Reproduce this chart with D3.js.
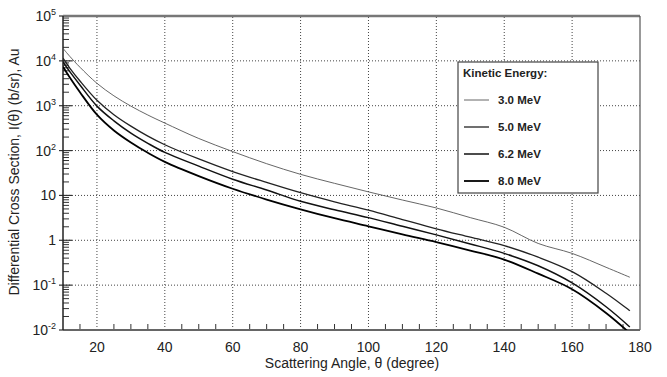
<!DOCTYPE html>
<html>
<head>
<meta charset="utf-8">
<script src="https://cdn.jsdelivr.net/npm/d3@7"></script>
<style>
  body { margin: 0; background: #fff; }
  text { font-family: "Liberation Sans", Arial, sans-serif; fill: #222; }
</style>
</head>
<body>
<div class="visHolder"></div>
<script>
const width = 667;
const height = 377;

// data
const angles = [10, 12, 15, 20, 25, 30, 35, 40, 50, 60, 70, 80, 90, 100, 110, 120, 130, 140, 150, 160, 170, 177];
const mev30 = [19000, 12600, 7200, 3160, 1660, 980, 620, 410, 186, 95, 51, 29.5, 18.6, 12.0, 7.9, 5.25, 3.2, 1.95, 0.85, 0.51, 0.25, 0.15];
const mev50 = [11500, 6900, 3550, 1320, 630, 350, 210, 135, 65, 34, 19.5, 11.5, 7.2, 4.7, 2.9, 1.8, 1.17, 0.76, 0.42, 0.2, 0.066, 0.027];
const mev62 = [9500, 5750, 2900, 980, 460, 245, 145, 91, 45, 23, 13.2, 7.4, 4.8, 3.2, 2.05, 1.32, 0.83, 0.51, 0.27, 0.112, 0.033, 0.0117];
const mev80 = [7400, 4250, 2000, 630, 280, 151, 89, 56, 27, 14.1, 8.1, 4.9, 3.1, 2.05, 1.35, 0.91, 0.59, 0.37, 0.18, 0.081, 0.024, 0.0085];
const seriesNames = ["3.0 MeV", "5.0 MeV", "6.2 MeV", "8.0 MeV"];
const xTicks = [20, 40, 60, 80, 100, 120, 140, 160, 180];
const yTicks = [1e5, 1e4, 1e3, 1e2, 10, 1, 0.1, 0.01];
const yTickBase = ["10", "10", "10", "10", "10", "1", "10", "10"];
const yTickExp = ["5", "4", "3", "2", "", "", "-1", "-2"];

const margin = { left: 63, right: 27, top: 16, bottom: 47 };
const plotW = width - margin.left - margin.right;
const plotH = height - margin.top - margin.bottom;

const svg = d3.select(".visHolder").append("svg")
    .attr("width", width)
    .attr("height", height);

svg.append("rect").attr("width", width).attr("height", height).attr("fill", "#fff");

const x = d3.scaleLinear().domain([10, 180]).range([margin.left, margin.left + plotW]);
const y = d3.scaleLog().domain([0.01, 1e5]).range([margin.top + plotH, margin.top]);

// grid
const grid = svg.append("g").attr("stroke", "#444").attr("stroke-width", 1).attr("stroke-dasharray", "1,2");
grid.selectAll(".gx").data(xTicks.filter(d => d < 180)).enter().append("line")
    .attr("x1", d => x(d)).attr("x2", d => x(d))
    .attr("y1", y(0.01)).attr("y2", y(1e5));
grid.selectAll(".gy").data(yTicks.slice(1, -1)).enter().append("line")
    .attr("x1", x(10)).attr("x2", x(180))
    .attr("y1", d => y(d)).attr("y2", d => y(d));

// minor ticks (inside)
const minorY = [];
for (let e = -2; e < 5; e++) {
    for (let m = 2; m <= 9; m++) minorY.push(m * Math.pow(10, e));
}
svg.append("g").selectAll("line").data(minorY).enter().append("line")
    .attr("x1", x(10)).attr("x2", x(10) + 6)
    .attr("y1", d => y(d)).attr("y2", d => y(d))
    .attr("stroke", "#333").attr("stroke-width", 1);
svg.append("g").selectAll("line").data(yTicks).enter().append("line")
    .attr("x1", x(10) - 4).attr("x2", x(10) + 9)
    .attr("y1", d => y(d)).attr("y2", d => y(d))
    .attr("stroke", "#333").attr("stroke-width", 1.2);

const minorX = d3.range(15, 180, 5).filter(d => d % 20 !== 0);
svg.append("g").selectAll("line").data(minorX).enter().append("line")
    .attr("x1", d => x(d)).attr("x2", d => x(d))
    .attr("y1", y(0.01)).attr("y2", y(0.01) - 6)
    .attr("stroke", "#333").attr("stroke-width", 1);

// frame
svg.append("line").attr("x1", x(10)).attr("x2", x(180)).attr("y1", y(1e5)).attr("y2", y(1e5))
    .attr("stroke", "#777").attr("stroke-width", 2.5);
svg.append("line").attr("x1", x(180)).attr("x2", x(180)).attr("y1", y(1e5)).attr("y2", y(0.01))
    .attr("stroke", "#555").attr("stroke-width", 1.2);
svg.append("line").attr("x1", x(10)).attr("x2", x(180)).attr("y1", y(0.01)).attr("y2", y(0.01))
    .attr("stroke", "#666").attr("stroke-width", 2);
svg.append("line").attr("x1", x(10)).attr("x2", x(10)).attr("y1", y(1e5)).attr("y2", y(0.01))
    .attr("stroke", "#222").attr("stroke-width", 1.5);

// x tick labels
svg.append("g").selectAll("text").data(xTicks).enter().append("text")
    .attr("x", d => x(d)).attr("y", 352)
    .attr("text-anchor", "middle").attr("font-size", 14)
    .text(d => d);

// y tick labels
const yl = svg.append("g").selectAll("text").data(yTicks).enter().append("text")
    .attr("x", 56).attr("y", d => y(d) + 5)
    .attr("text-anchor", "end").attr("font-size", 14);
yl.append("tspan").text((d, i) => yTickBase[i]);
yl.append("tspan").attr("dy", -6).attr("font-size", 9).text((d, i) => yTickExp[i]);

// axis titles
svg.append("text").attr("x", 352).attr("y", 368).attr("text-anchor", "middle")
    .attr("font-size", 14).text("Scattering Angle, θ (degree)");
svg.append("text").attr("transform", "translate(19,172) rotate(-90)")
    .attr("text-anchor", "middle").attr("font-size", 14)
    .text("Differential Cross Section, I(θ) (b/sr), Au");

// curves
svg.append("clipPath").attr("id", "plotClip").append("rect")
    .attr("x", x(10)).attr("y", y(1e5)).attr("width", plotW).attr("height", plotH);

const allSeries = [mev30, mev50, mev62, mev80];
const strokes = ["#555", "#222", "#111", "#000"];
const widths = [0.9, 1.3, 1.5, 1.8];
const line = d3.line()
    .x((d, i) => x(angles[i]))
    .y(d => y(d))
    .curve(d3.curveCatmullRom.alpha(0.5));

svg.append("g").attr("clip-path", "url(#plotClip)")
    .selectAll("path").data(allSeries).enter().append("path")
    .attr("d", d => line(d))
    .attr("fill", "none")
    .attr("stroke", (d, i) => strokes[i])
    .attr("stroke-width", (d, i) => widths[i]);

// legend
const lg = svg.append("g");
lg.append("rect").attr("x", 458).attr("y", 62).attr("width", 140).attr("height", 131)
    .attr("fill", "#fff").attr("stroke", "#444").attr("stroke-width", 1.2);
lg.append("text").attr("x", 463).attr("y", 77).attr("font-size", 11.5)
    .attr("font-weight", "bold").text("Kinetic Energy:");
const entries = lg.selectAll(".entry").data(seriesNames).enter().append("g")
    .attr("transform", (d, i) => "translate(0," + (100 + i * 27) + ")");
entries.append("line").attr("x1", 464).attr("x2", 489).attr("y1", 0).attr("y2", 0)
    .attr("stroke", (d, i) => strokes[i])
    .attr("stroke-width", (d, i) => widths[i]);
entries.append("text").attr("x", 498).attr("y", 4).attr("font-size", 11.5)
    .attr("font-weight", "bold").text(d => d);
</script>
</body>
</html>
